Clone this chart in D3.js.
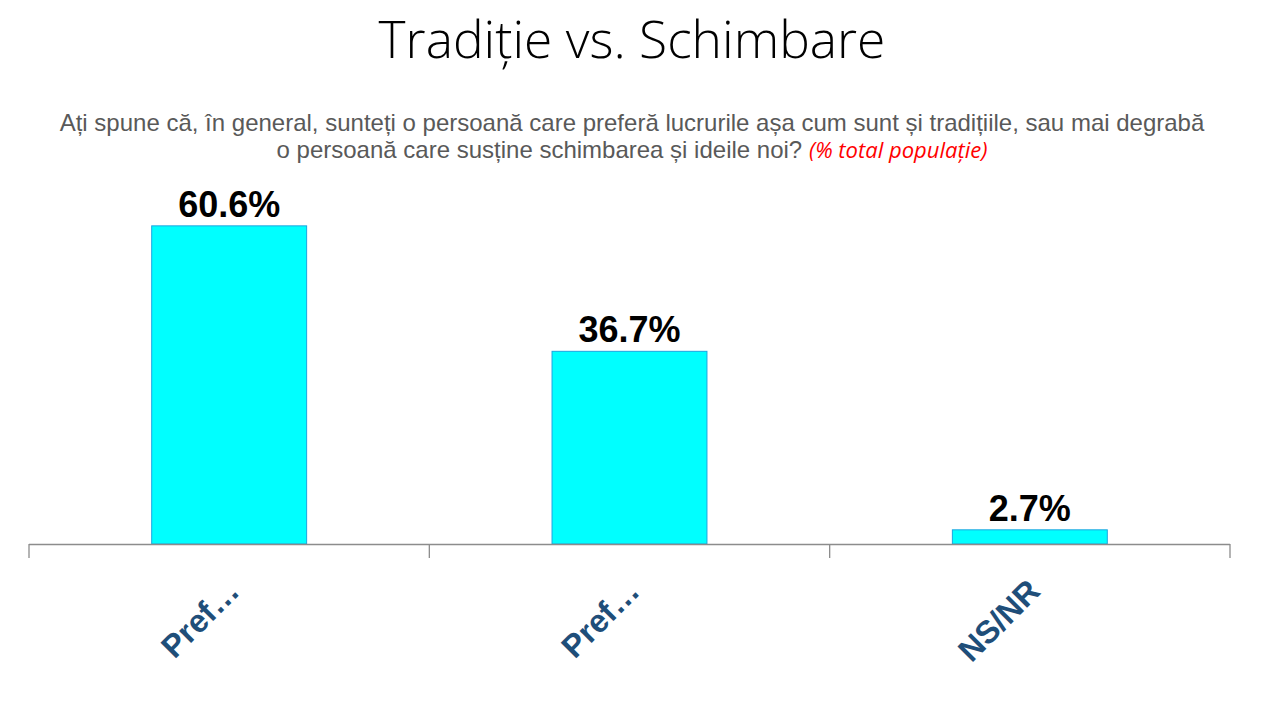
<!DOCTYPE html>
<html>
<head>
<meta charset="utf-8">
<script src="https://cdn.jsdelivr.net/npm/d3@7"></script>
<style>
    body { margin: 0; background: #fff; }
    svg { display: block; }
</style>
</head>
<body>
<div id="chart"></div>
<script>
// chart data
var categories = ['Pref…', 'Pref…', 'NS/NR'];
var values = [60.6, 36.7, 2.7];
var valueLabels = ['60.6%', '36.7%', '2.7%'];

var titleText = 'Tradiție vs. Schimbare';
var subtitleLine1 = 'Ați spune că, în general, sunteți o persoană care preferă lucrurile așa cum sunt și tradițiile, sau mai degrabă';
var subtitleLine2 = 'o persoană care susține schimbarea și ideile noi? ';
var subtitleNote = '(% total populație)';

var W = 1271, H = 708;
var margin = { top: 0, right: 41, bottom: 164, left: 29 },
    width = W - margin.left - margin.right,
    height = H - margin.bottom;

var svg = d3.select('#chart')
    .append('svg')
    .attr('width', W)
    .attr('height', H);

// title
svg.append('text')
    .attr('x', 632)
    .attr('y', 58)
    .attr('text-anchor', 'middle')
    .style('font-family', 'Open Sans')
    .style('font-weight', 300)
    .style('font-size', '51.5px')
    .attr('fill', '#000')
    .text(titleText);

// subtitle
var sub = svg.append('text')
    .attr('text-anchor', 'middle')
    .style('font-family', 'Liberation Sans, Arial, sans-serif')
    .style('font-size', '24px')
    .attr('fill', '#595959');
sub.append('tspan').attr('x', 632).attr('y', 131).text(subtitleLine1);
sub.append('tspan').attr('x', 632).attr('y', 158).text(subtitleLine2);
sub.append('tspan')
    .style('fill', '#ff0000')
    .style('font-style', 'italic')
    .style('font-family', 'Open Sans, sans-serif')
    .style('font-size', '22px')
    .text(subtitleNote);

var g = svg.append('g')
    .attr('transform', 'translate(' + margin.left + ',0)');

var x = d3.scaleBand()
    .domain(d3.range(categories.length))
    .range([0, width])
    .paddingInner(0)
    .paddingOuter(0);

var y = d3.scaleLinear()
    .domain([0, 100])
    .range([height, height - 525]);

var barW = x.bandwidth() * 0.387;

// bars
g.selectAll('.bar')
    .data(values)
    .enter()
    .append('rect')
    .attr('class', 'bar')
    .attr('x', function(d, i) { return x(i) + (x.bandwidth() - barW) / 2; })
    .attr('y', function(d) { return y(d); })
    .attr('width', barW)
    .attr('height', function(d) { return height - y(d); })
    .attr('fill', '#00ffff')
    .attr('stroke', '#1aa6e0')
    .attr('stroke-width', 1);

// value labels
g.selectAll('.val')
    .data(values)
    .enter()
    .append('text')
    .attr('class', 'val')
    .attr('x', function(d, i) { return x(i) + x.bandwidth() / 2; })
    .attr('y', function(d) { return y(d) - 9; })
    .attr('text-anchor', 'middle')
    .style('font-family', 'Liberation Sans, Arial, sans-serif')
    .style('font-weight', 'bold')
    .style('font-size', '36px')
    .attr('fill', '#000')
    .text(function(d, i) { return valueLabels[i]; });

// x axis
var axis = g.append('g')
    .attr('transform', 'translate(0,' + height + ')');

axis.append('line')
    .attr('x1', 0).attr('x2', width)
    .attr('y1', 0.5).attr('y2', 0.5)
    .attr('stroke', '#8c8c8c')
    .attr('stroke-width', 1.3);

axis.selectAll('.tick')
    .data(d3.range(categories.length + 1))
    .enter()
    .append('line')
    .attr('x1', function(d) { return d < categories.length ? x(d) : width; })
    .attr('x2', function(d) { return d < categories.length ? x(d) : width; })
    .attr('y1', 0)
    .attr('y2', 14)
    .attr('stroke', '#8c8c8c')
    .attr('stroke-width', 1.3);

axis.selectAll('.cat')
    .data(categories)
    .enter()
    .append('text')
    .attr('class', 'cat')
    .attr('transform', function(d, i) {
        return 'translate(' + (x(i) + x.bandwidth() / 2 + 12) + ',49) rotate(-45)';
    })
    .attr('text-anchor', 'end')
    .style('font-family', 'Liberation Sans, Arial, sans-serif')
    .style('font-weight', 'bold')
    .style('font-size', '32px')
    .attr('fill', '#1f4e79')
    .text(function(d) { return d; });
</script>
</body>
</html>
